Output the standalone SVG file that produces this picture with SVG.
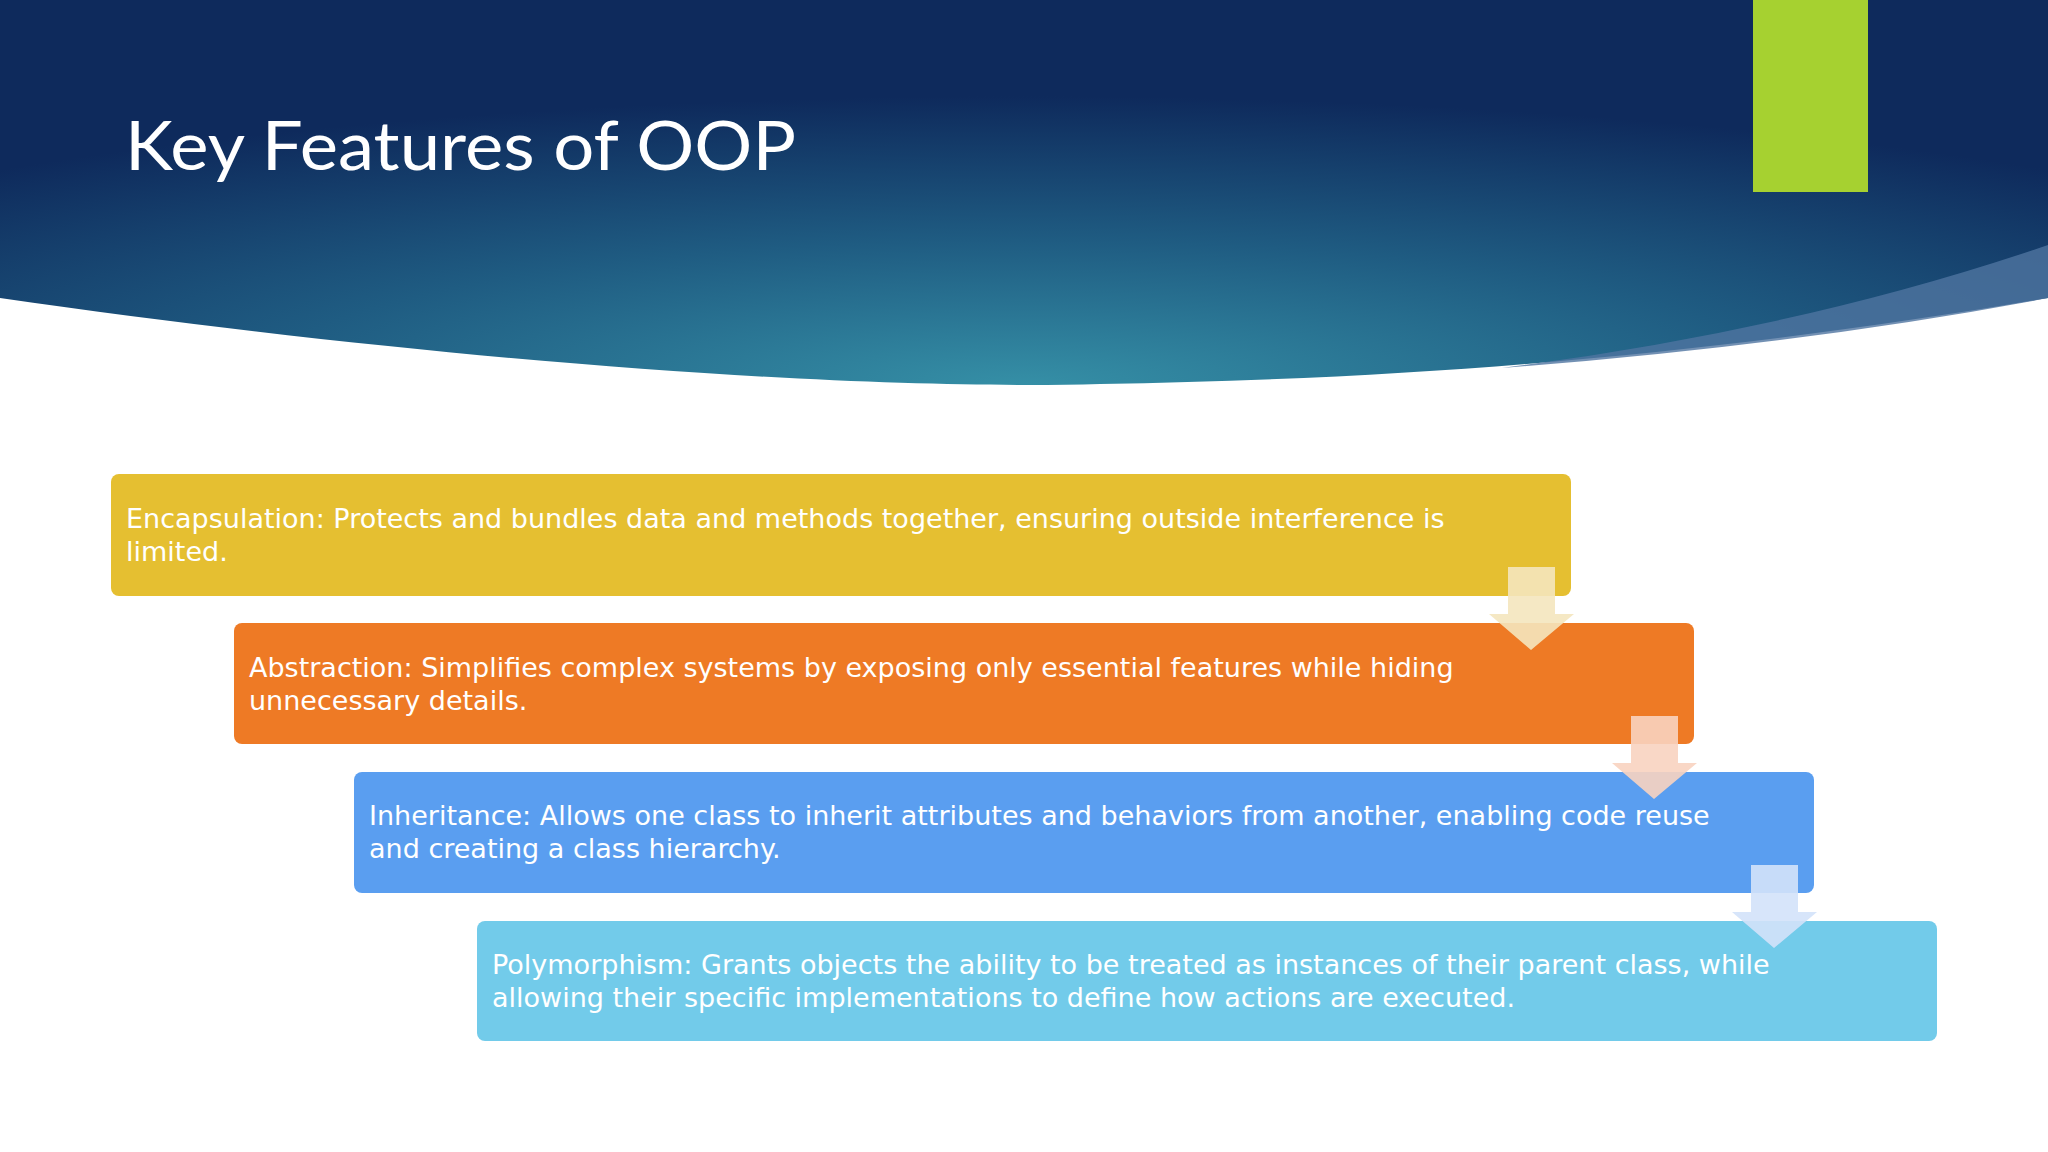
<svg xmlns="http://www.w3.org/2000/svg" width="2048" height="1152" viewBox="0 0 2048 1152">
<defs>
<radialGradient id="hg" cx="0.5" cy="1" r="0.75">
<stop offset="0" stop-color="#358FA6"/>
<stop offset="0.5" stop-color="#1F5C82"/>
<stop offset="1" stop-color="#0E2A5C"/>
</radialGradient>
<style>
.box text{font-family:"DejaVu Sans","Open Sans",sans-serif;font-size:27px;fill:#fff}
.arr{fill-opacity:0.9}
</style>
</defs>
<rect width="2048" height="1152" fill="#fff"/>
<path d="M0 298C500 370 900 390 1100 384C1500 378 1800 340 2048 298V0H0Z" fill="url(#hg)"/>
<path d="M1502 368Q1800 330 2048 245V298Q1800 345 1502 368Z" fill="#4F74A0" opacity="0.8"/>
<rect x="1753" y="0" width="115" height="192" fill="#A6D130"/>
<text x="125" y="170" font-family="Lato,'Open Sans',sans-serif" font-size="68" fill="#fff" textLength="671" lengthAdjust="spacingAndGlyphs">Key Features of OOP</text>
<g id="n1" class="box"><rect x="111" y="474" width="1460" height="122" rx="8" fill="#E5BF31"/>
<text x="126" y="528">Encapsulation: Protects and bundles data and methods together, ensuring outside interference is</text><text x="126" y="561">limited.</text></g>
<g id="n2" class="box"><rect x="234" y="623" width="1460" height="121" rx="8" fill="#EE7A25"/>
<text x="249" y="677">Abstraction: Simplifies complex systems by exposing only essential features while hiding</text><text x="249" y="710">unnecessary details.</text></g>
<g id="n3" class="box"><rect x="354" y="772" width="1460" height="121" rx="8" fill="#5A9EF0"/>
<text x="369" y="825">Inheritance: Allows one class to inherit attributes and behaviors from another, enabling code reuse</text><text x="369" y="858">and creating a class hierarchy.</text></g>
<g id="n4" class="box"><rect x="477" y="921" width="1460" height="120" rx="8" fill="#72CBEA"/>
<text x="492" y="974">Polymorphism: Grants objects the ability to be treated as instances of their parent class, while</text><text x="492" y="1007">allowing their specific implementations to define how actions are executed.</text></g>
<g id="connectors">
<path class="arr" fill="#F4E6BE" d="M1508 567H1555V614H1574L1531 650L1489 614H1508Z"/>
<path class="arr" fill="#F8D3C0" d="M1631 716H1678V763H1697L1654 799L1612 763H1631Z"/>
<path class="arr" fill="#D3E2FA" d="M1751 865H1798V912H1817L1774 948L1732 912H1751Z"/>
</g>
</svg>
